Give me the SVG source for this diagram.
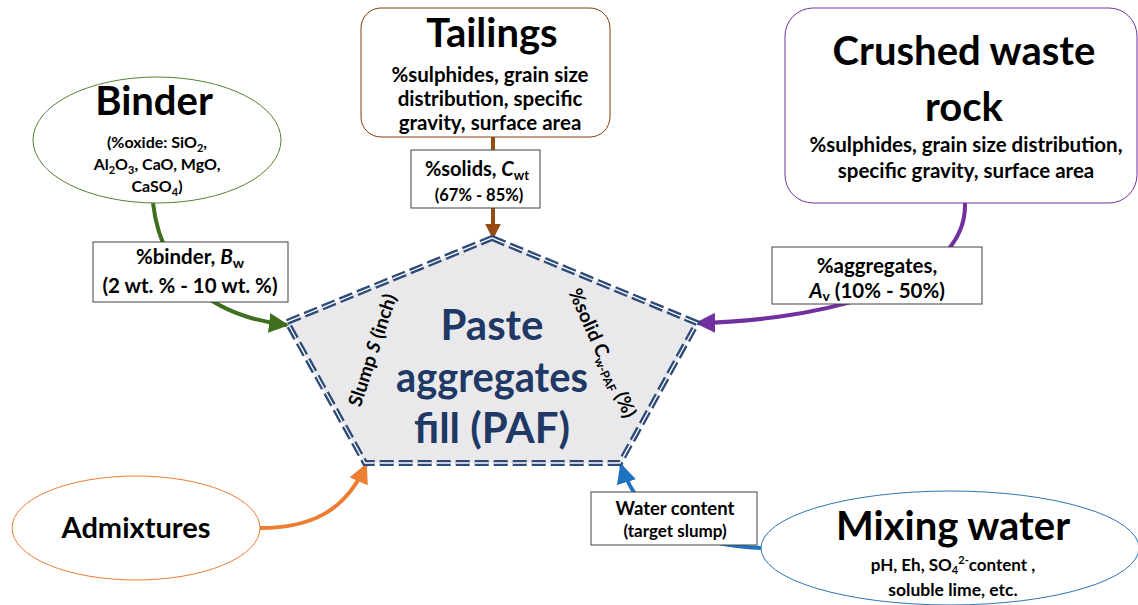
<svg xmlns="http://www.w3.org/2000/svg" width="1138" height="605" viewBox="0 0 1138 605">
<defs>
<style>
text{font-family:Lato,"Open Sans","Liberation Sans",sans-serif;font-weight:bold;fill:#000;text-anchor:middle}
.title{font-size:40px}
.lt{font-size:20.5px}
.lbl{fill:#fff;stroke:#404040;stroke-width:1}
.conn{fill:none;stroke-width:4}
.paf{fill:#1f3864;font-size:42px}
</style>
<marker id="aG" viewBox="0 0 10 10" refX="9" refY="5" markerWidth="5" markerHeight="5" orient="auto" markerUnits="strokeWidth"><path d="M0,0L10,5L0,10z" fill="#3f6f1f"/></marker>
<marker id="aB" viewBox="0 0 10 10" refX="9" refY="5" markerWidth="4" markerHeight="4" orient="auto" markerUnits="strokeWidth"><path d="M0,0L10,5L0,10z" fill="#974a12"/></marker>
<marker id="aP" viewBox="0 0 10 10" refX="9" refY="5" markerWidth="5" markerHeight="5" orient="auto" markerUnits="strokeWidth"><path d="M0,0L10,5L0,10z" fill="#7030a0"/></marker>
<marker id="aO" viewBox="0 0 10 10" refX="9" refY="5" markerWidth="5" markerHeight="5" orient="auto" markerUnits="strokeWidth"><path d="M0,0L10,5L0,10z" fill="#ed7d31"/></marker>
<marker id="aW" viewBox="0 0 10 10" refX="9" refY="5" markerWidth="5" markerHeight="5" orient="auto" markerUnits="strokeWidth"><path d="M0,0L10,5L0,10z" fill="#1f72c0"/></marker>
</defs>
<rect width="1138" height="605" fill="#fff"/>

<g id="connectors">
<path class="conn" d="M153,203 C160,265 200,315 287,325" stroke="#3f6f1f" marker-end="url(#aG)"/>
<path class="conn" d="M493,137 L493,238" stroke="#974a12" marker-end="url(#aB)"/>
<path class="conn" d="M965,203 C968,295 790,322 697,323" stroke="#7030a0" marker-end="url(#aP)"/>
<path class="conn" d="M260,528 C310,528 345,512 366,465" stroke="#ed7d31" marker-end="url(#aO)"/>
<path class="conn" d="M761,548 C700,546 640,525 621,465" stroke="#1f72c0" marker-end="url(#aW)"/>
</g>

<g id="paf">
<polygon points="492,238 697,323 620,463 365,463 287,322" fill="#e9e9ec"/>
<polygon points="492,238 697,323 620,463 365,463 287,322" fill="none" stroke="#2e4a78" stroke-width="6" stroke-dasharray="14 5"/>
<polygon points="492,238 697,323 620,463 365,463 287,322" fill="none" stroke="#fff" stroke-width="1.3" stroke-dasharray="14 5"/>
<text class="paf" x="492" y="340">Paste</text>
<text class="paf" x="492" y="392" textLength="192" lengthAdjust="spacingAndGlyphs">aggregates</text>
<text class="paf" x="492" y="443">fill (PAF)</text>
<text font-size="19" transform="translate(372,350) rotate(-72)" dy="7">Slump <tspan font-style="italic">S</tspan> (inch)</text>
<text font-size="19" transform="translate(603,353) rotate(66)" dy="7">%solid C<tspan font-size="12" dy="4">w-PAF</tspan><tspan dy="-4"> (%)</tspan></text>
</g>

<g id="binder">
<ellipse cx="157" cy="140" rx="124" ry="63" fill="#fff" stroke="#548235" stroke-width="1"/>
<text class="title" x="154" y="115">Binder</text>
<text x="157" y="148" font-size="16">(%oxide: SiO<tspan font-size="11" dy="4">2</tspan><tspan dy="-4">,</tspan></text>
<text x="157" y="170" font-size="16">Al<tspan font-size="11" dy="4">2</tspan><tspan dy="-4">O</tspan><tspan font-size="11" dy="4">3</tspan><tspan dy="-4">, CaO, MgO,</tspan></text>
<text x="157" y="192" font-size="16">CaSO<tspan font-size="11" dy="4">4</tspan><tspan dy="-4">)</tspan></text>
</g>

<g id="binder-label">
<rect class="lbl" x="93" y="242" width="195" height="60"/>
<text class="lt" x="190" y="264">%binder, <tspan font-style="italic">B</tspan><tspan font-size="14" dy="4">w</tspan></text>
<text class="lt" x="190" y="293">(2 wt. % - 10 wt. %)</text>
</g>

<g id="tailings">
<rect x="361" y="8" width="249" height="129" rx="20" fill="#fff" stroke="#843c0c" stroke-width="1"/>
<text class="title" x="492" y="47">Tailings</text>
<text x="490" y="82" font-size="20.5">%sulphides, grain size</text>
<text x="490" y="106" font-size="20.5">distribution, specific</text>
<text x="490" y="130" font-size="20.5">gravity, surface area</text>
</g>

<g id="solids-label">
<rect class="lbl" x="411" y="150" width="129" height="58"/>
<text x="477" y="176" font-size="20">%solids, <tspan font-style="italic">C</tspan><tspan font-size="13" dy="4">wt</tspan></text>
<text x="479" y="201" font-size="16.5">(67% - 85%)</text>
</g>

<g id="crushed">
<rect x="785" y="8" width="352" height="195" rx="28" fill="#fff" stroke="#7030a0" stroke-width="1"/>
<text class="title" x="964" y="65">Crushed waste</text>
<text class="title" x="964" y="121">rock</text>
<text x="966" y="152" font-size="20.5">%sulphides, grain size distribution,</text>
<text x="966" y="178" font-size="20.5">specific gravity, surface area</text>
</g>

<g id="aggregates-label">
<rect class="lbl" x="772" y="247" width="210" height="57"/>
<text class="lt" x="877" y="273">%aggregates,</text>
<text class="lt" x="877" y="298"><tspan font-style="italic">A</tspan><tspan font-size="14" dy="3">v</tspan><tspan dy="-3"> (10% - 50%)</tspan></text>
</g>

<g id="admixtures">
<ellipse cx="136" cy="528" rx="124" ry="52" fill="#fff" stroke="#ed7d31" stroke-width="1"/>
<text x="136" y="538" font-size="29">Admixtures</text>
</g>

<g id="water-label">
<rect class="lbl" x="591" y="492" width="166" height="53"/>
<text x="675" y="515" font-size="18.5">Water content</text>
<text x="675" y="537" font-size="17">(target slump)</text>
</g>

<g id="mixing-water">
<ellipse cx="950" cy="548" rx="189" ry="57" fill="#fff" stroke="#2e75b6" stroke-width="1"/>
<text class="title" x="953" y="540">Mixing water</text>
<text x="953" y="571" font-size="17">pH, Eh, SO<tspan font-size="11" dy="3">4</tspan><tspan font-size="11" dy="-10">2-</tspan><tspan dy="7">content ,</tspan></text>
<text x="953" y="596" font-size="17.5">soluble lime, etc.</text>
</g>
</svg>
